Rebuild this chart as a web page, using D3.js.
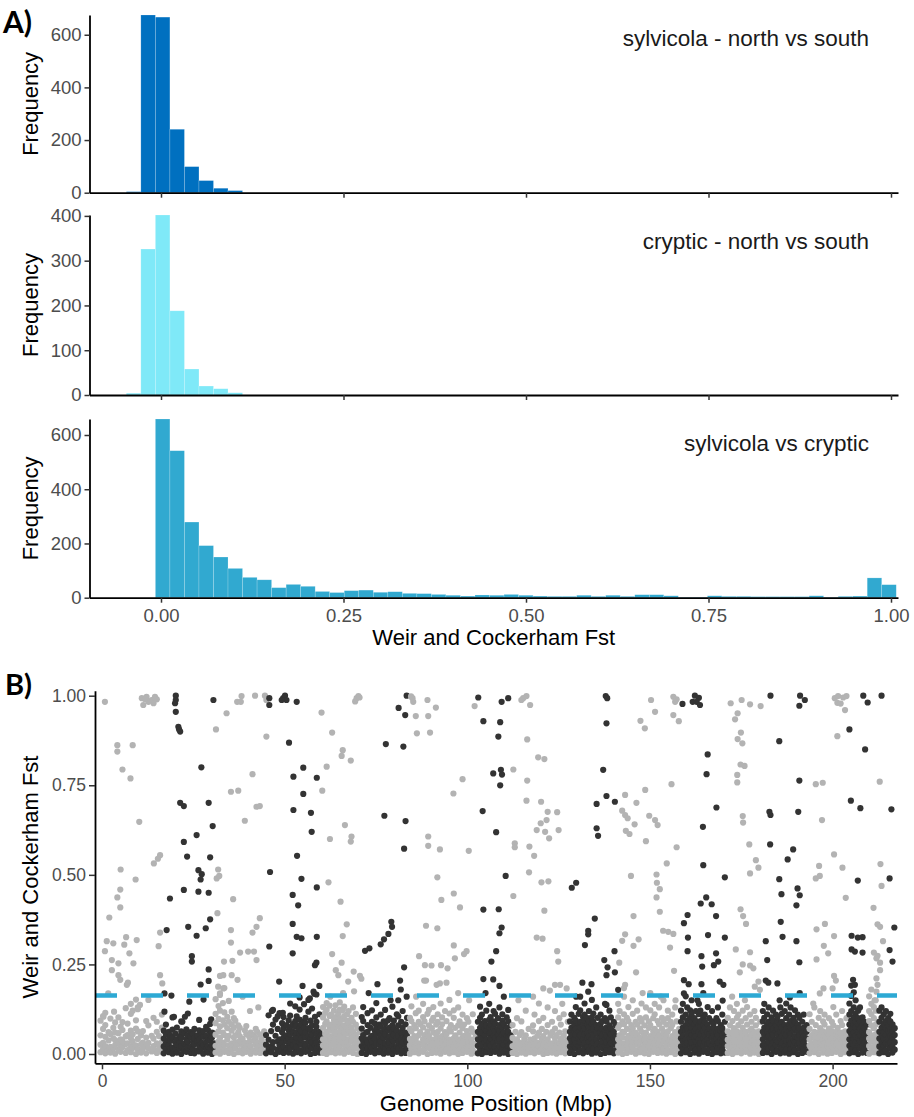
<!DOCTYPE html>
<html><head><meta charset="utf-8">
<script src="https://cdn.jsdelivr.net/npm/d3@7"></script>
<style>
body{margin:0;background:#fff}
svg{display:block}
text{font-family:"Liberation Sans",Arial,Helvetica,sans-serif}
</style>
</head><body>
<svg id="c" width="914" height="1117"></svg>
<script>
// ---------- Panel A: histogram data ----------
const histBinStart = -0.0475;
const histBinWidth = 0.0199;
const countsSylvicolaNS = [4,675,667,241,99,46,17,8];
const countsCrypticNS = [4,326,402,188,58,20,14,5];
const countsSylVsCry = [0,0,659,542,279,192,150,108,75,66,37,49,42,23,19,26,28,20,22,16,15,12,9,6,10,9,12,9,6,5,5,9,5,9,5,11,11,7,2,2,7,5,5,4,4,4,4,7,2,5,6,73,48];
const histLabels = ["sylvicola - north vs south","cryptic - north vs south","sylvicola vs cryptic"];
const histXTicks = [0,0.25,0.5,0.75,1];
const histXTickLabels = ["0.00","0.25","0.50","0.75","1.00"];
const histYTicks1 = [0,200,400,600];
const histYTicks2 = [0,100,200,300,400];
const histYTicks3 = [0,200,400,600];

// ---------- Panel B: Manhattan data ----------
const fstThreshold = 0.163;
const genomeTicks = [0,50,100,150,200];
const fstTicks = [0,0.25,0.5,0.75,1];
const fstTickLabels = ["0.00","0.25","0.50","0.75","1.00"];
// low band per chromosome: [position(Mbp), Fst values in hundredths...]
const lowBand = [
 [[-0.4,0.5,2.6,5.2,9.3],[0.3,1.4,3.1,7.0,10.6],[0.9,0.2,2.2,4.8,8.1,11.5],[1.8,1.0,3.8,6.1],[2.3,0.4,2.0,5.6,9.9],[3.1,1.6,4.4,7.3],[3.6,0.1,2.5,3.9,6.0,8.8],[4.5,1.2,3.3,5.8,10.2],[5.1,0.6,2.0,4.1,7.6],[5.6,1.9,3.6,6.7,8.9],[6.5,0.3,2.8,4.9,12.8],[7.0,1.1,3.0,5.3,8.5],[7.9,0.5,2.1,4.4,6.5,11.2,14.0],[8.4,1.7,3.5,5.5,12.1],[9.3,0.0,2.4,7.1,9.4,15.2],[9.8,1.3,4.2,6.3,13.0],[10.7,0.4,2.7,5.2],[11.2,1.5,3.2,6.4],[12.1,0.2,2.3,4.6,9.2],[12.7,1.6,3.1,8.0],[13.6,0.7,5.1],[14.1,1.0,2.2,4.3,10.1],[15.0,0.3,3.0,6.2,9.0],[15.6,1.4,2.4,5.0],[16.4,0.5,3.3,7.4,11.0]],
 [[16.9,0.2,2.1,4.3,6.5],[17.5,1.3,3.0,5.4,8.2],[18.3,0.5,2.4,4.0,6.2],[18.8,1.6,3.7,5.1],[19.3,0.1,1.8,4.6,6.8,10.2],[20.1,1.2,3.2,5.7],[20.5,0.4,2.6,4.1,7.4],[21.3,1.5,3.4,5.0],[21.7,0.0,2.2,4.5,6.3,9.1],[22.5,1.1,2.9,5.8],[23.1,0.6,2.5,4.2,6.9],[23.5,1.8,3.5,5.3,11.3],[24.3,0.3,2.0,4.7,6.1],[24.9,1.4,3.3,5.6],[25.3,0.2,2.7,4.4,7.0],[26.1,1.0,3.6,5.2],[26.6,0.7,2.3,4.0,6.6,9.5],[27.3,1.7,3.1,5.5],[27.7,0.1,2.5,4.8,6.4],[28.5,1.3,3.4,5.1,7.6],[29.0,0.4,2.1,4.3,6.7],[29.6,1.5,3.8,5.4,8.4],[30.1,0.0,2.6,4.6,6.0],[30.7,1.2,3.0,5.7]],
 [[31.1,0.4,2.3,5.4,8.6,11.2,15.3],[31.9,1.2,3.5,6.3,9.8,13.4],[32.3,0.1,2.0,4.5,7.7,12.1,16.5],[33.1,1.6,3.2,6.0,9.4,14.2],[33.5,0.6,2.6,5.3,8.2,11.6,18.4],[34.3,1.0,4.1,7.2,10.4],[34.7,0.3,2.4,5.1,9.0,14.8],[35.5,1.4,3.0,6.5,8.3,11.8],[36.1,0.0,2.1,4.6,7.4,10.0],[36.5,1.7,3.3,5.2,9.3],[37.3,0.5,2.8,6.1,8.0],[37.7,1.1,3.6,5.0,7.3],[38.5,0.2,2.5,4.2],[39.1,1.3,3.1,6.6],[39.5,0.6,2.0,5.5,7.8],[40.3,1.5,3.4,4.8],[40.7,0.1,2.2,6.0],[41.5,1.0,3.7,5.3],[42.1,0.4,2.6,4.5,7.0],[42.5,1.6,3.2,6.2],[43.3,0.3,2.1,5.4],[43.7,1.2,3.5,4.1],[44.4,0.5,2.4,6.3]],
 [[44.9,0.2,2.6,5.3],[45.6,1.4,4.0,10.8],[46.3,0.5,2.1,6.4],[46.8,1.7,3.3,8.2,12.3],[47.5,0.0,5.1,9.6],[48.1,1.2,3.5,7.0],[48.6,0.6,2.4,4.1,11.4],[49.3,1.5,3.2,6.1,8.6],[49.7,0.3,2.0,4.6,7.2,10.3],[50.5,1.1,3.6,5.2,8.1],[51.1,0.4,2.2,4.3,6.6,9.4],[51.5,1.6,3.1,5.5,7.5,10.7,14.1],[52.3,0.1,2.5,4.0,6.2,8.4],[52.9,1.3,3.4,5.1,7.7,9.2,13.3],[53.3,0.5,2.0,4.5,6.1,8.0,10.5],[54.1,1.0,3.2,5.6,7.1,9.6,12.4,15.8],[54.5,0.2,2.6,4.2,6.4,8.3],[55.3,1.4,3.0,5.3,7.4,9.1,13.9],[55.7,0.6,2.3,4.7,6.0,8.7,10.1],[56.5,1.2,3.5,5.0,7.2,11.8,15.1],[57.1,0.0,2.1,4.4,6.5,9.3],[57.5,1.7,3.3,5.4,8.0,12.7],[58.3,0.3,2.4,4.1,6.3,10.4],[58.7,1.5,3.1,5.5,7.6,9.0,16.6],[59.5,0.4,2.0,4.6,6.2,11.1],[60.0,1.1,3.6,5.2]],
 [[60.5,0.3,2.4,4.1,7.3,10.2,13.1],[61.1,1.2,3.0,5.6,8.4,11.5],[61.5,0.0,2.1,4.5,6.2,9.1,12.3,14.2],[62.3,1.5,3.3,5.0,7.4,10.6,13.5],[62.7,0.5,2.6,4.2,6.6,8.2,11.0],[63.5,1.1,3.5,5.3,7.0,9.5,12.1],[63.9,0.2,2.0,4.6,6.1,8.4,10.3,13.6],[64.7,1.6,3.2,5.5,7.7,9.0,11.4],[65.1,0.4,2.3,4.0,6.3,8.6,10.0,12.4,14.4],[65.9,1.0,3.1,5.2,7.5,9.7,12.2],[66.3,0.1,2.5,4.4,6.0,8.0,10.6,13.2],[67.1,1.4,3.4,5.7,7.2,9.3,11.1],[67.5,0.6,2.2,4.1,6.5,8.5,12.0],[68.3,1.2,3.6,5.1,7.4,10.1],[68.7,0.3,2.0,4.7,6.2,9.0,13.0],[69.5,1.7,3.2,5.4,8.2,11.2],[69.9,0.0,2.4,4.3,7.1],[70.6,1.3,3.0,6.1]],
 [[71.1,0.3,2.2,4.4,7.1,10.3],[71.5,1.5,3.6,5.3,9.2,13.1],[72.3,0.0,2.5,4.1,6.0],[72.7,1.2,3.2,6.2,8.1,11.4],[73.5,0.6,2.0,4.6,7.3],[73.9,1.7,3.4,5.1,9.0,12.2],[74.7,0.2,2.3,4.2,6.4,8.5],[75.1,1.0,3.1,5.6,7.2,10.2,14.2],[75.9,0.5,2.6,4.0,6.1,8.2],[76.3,1.4,3.5,5.2,7.6,11.0],[77.1,0.1,2.1,4.5,6.3,9.1],[77.5,1.6,3.0,5.5,7.0,8.6,12.3],[78.3,0.4,2.4,4.3,6.6,9.4],[78.7,1.1,3.3,5.0,7.4,10.0],[79.5,0.0,2.2,4.1,6.2,8.0,13.2],[79.9,1.3,3.6,5.4,7.1,9.3],[80.7,0.6,2.0,4.6,6.5,11.1],[81.1,1.5,3.2,5.2,8.0,10.5,15.0],[81.9,0.2,2.5,4.0,6.1,9.0],[82.3,1.0,3.1,5.6,7.3,12.0],[83.1,0.3,2.3,4.4,6.0,8.3],[83.5,1.4,3.4,5.1,10.1]],
 [[84.3,0.1,2.4,4.2,7.0,10.1],[84.7,1.3,3.1,6.3,9.2,13.3],[85.5,0.5,2.0,5.0,8.1],[85.9,1.6,3.5,4.4,7.2,11.4],[86.7,0.2,2.3,5.2,9.0,12.1],[87.1,1.1,3.0,6.1,8.3],[87.9,0.6,2.6,4.1,7.4,10.3,14.0],[88.3,1.4,3.3,5.3,9.1],[89.1,0.0,2.1,4.6,6.3,11.2],[89.5,1.7,3.6,5.1,8.0,12.3],[90.3,0.3,2.5,4.0,7.2,9.3],[90.7,1.2,3.2,6.0,10.1,13.1],[91.5,0.4,2.2,4.3,5.4,8.2],[91.9,1.5,3.4,6.2,9.0,11.1],[92.7,0.1,2.0,4.5,7.1,14.1],[93.1,1.0,3.1,5.0,8.3,10.2],[93.9,0.6,2.4,4.2,6.1,12.0],[94.3,1.3,3.5,5.5,9.2],[95.1,0.2,2.6,4.0,7.0,11.3,15.1],[95.5,1.6,3.0,6.3,8.1],[96.3,0.5,2.3,4.4,10.1,12.2],[96.7,1.1,3.3,5.2,7.3],[97.5,0.0,2.1,4.1,8.0,13.0],[97.9,1.4,3.6,6.0,9.1],[98.7,0.3,2.5,4.6,7.2,11.0],[99.1,1.2,3.2,5.1,8.2],[99.9,0.6,2.0,4.3,6.4,10.0],[100.3,1.5,3.4,5.3,9.0],[101.1,0.1,2.2,4.0,7.1],[101.5,1.0,3.0,6.2,11.1],[102.3,0.4,2.6,5.0]],
 [[102.9,0.2,2.3,4.1,6.2,9.0],[103.5,1.4,3.0,5.5,7.3,10.1,13.2],[104.0,0.0,2.5,4.4,6.0,8.4,11.0],[104.8,1.1,3.4,5.2,7.1,9.2],[105.2,0.5,2.1,4.0,6.5,8.0,12.1],[106.0,1.6,3.2,5.6,7.4,9.5,14.0],[106.4,0.3,2.4,4.3,6.1,8.2,10.3],[107.2,1.0,3.1,5.0,7.2,9.1,12.0],[107.6,0.6,2.0,4.6,6.3,8.5,11.2],[108.4,1.3,3.5,5.3,7.0,10.0],[108.8,0.1,2.2,4.2,6.4,8.1,13.0],[109.6,1.5,3.0,5.4,7.5,9.3,11.1],[110.0,0.4,2.6,4.1,6.0,8.3],[110.8,1.2,3.3,5.1,7.3,10.2],[111.2,0.0,2.3,4.5,6.2,9.1],[111.9,1.6,3.1,5.2,8.0]],
 [[112.4,0.3,2.2,4.5,8.1],[113.2,1.1,3.4,6.2],[113.6,0.0,2.0,4.1,10.0],[114.4,1.5,3.1,5.3],[114.8,0.4,2.6,6.1,9.1],[115.6,1.2,3.3,4.2],[116.0,0.1,2.1,5.2,12.1],[116.8,1.6,3.0,7.0],[117.2,0.5,2.4,4.0],[118.0,1.0,3.5,6.3,8.0],[118.4,0.2,2.0,4.4,11.0],[119.2,1.3,3.2,5.1],[119.6,0.6,2.3,6.0,9.2,14.1],[120.4,1.4,3.1,4.3,7.0],[120.8,0.0,2.5,5.0,10.1],[121.6,1.1,3.4,6.2],[122.0,0.3,2.1,4.1,8.1,13.0],[122.8,1.5,3.0,5.2],[123.2,0.4,2.2,6.1,9.0],[124.0,1.2,3.3,4.4,7.1,12.0],[124.4,0.1,2.4,5.3],[125.2,1.6,3.1,6.0,10.0],[125.6,0.5,2.0,4.2,8.2],[126.4,1.0,3.5,5.1,11.1],[126.8,0.2,2.3,6.3],[127.5,1.4,3.2,4.0,9.0]],
 [[128.1,0.3,2.1,4.4,6.2,9.1],[128.5,1.2,3.5,5.1,7.3,11.0],[129.3,0.0,2.4,4.0,6.5,8.2,10.1],[129.7,1.6,3.0,5.4,7.0,9.3,13.1],[130.5,0.5,2.2,4.3,6.1,8.4,11.2],[130.9,1.1,3.3,5.2,7.4,9.0,12.2,16.0],[131.7,0.2,2.6,4.1,6.3,8.0,10.3],[132.1,1.4,3.1,5.5,7.2,9.4,11.0,14.1],[132.9,0.6,2.0,4.5,6.0,8.2,10.0],[133.3,1.0,3.4,5.0,7.5,9.2,12.0],[134.1,0.1,2.3,4.2,6.4,8.3,10.2,15.1],[134.5,1.5,3.2,5.3,7.1,9.0,11.3],[135.3,0.4,2.5,4.0,6.2,8.1,13.0],[135.7,1.3,3.0,5.6,7.3,10.1],[136.5,0.0,2.2,4.6,6.0,8.4,11.0],[136.9,1.7,3.5,5.1,7.0,9.2],[137.7,0.3,2.1,4.3,6.5,10.0,14.0],[138.1,1.1,3.3,5.2,7.4,9.1],[138.9,0.5,2.4,4.1,6.1,8.0,12.1],[139.3,1.4,3.0,5.5,7.2,10.2],[140.1,0.2,2.6,4.4,6.3,9.0],[140.6,1.0,3.1,5.0,8.1]],
 [[141.3,0.4,2.2,4.1,7.3,10.2,14.0],[141.7,1.1,3.5,5.2,8.1,12.0],[142.5,0.0,2.5,4.6,6.2,9.1],[142.9,1.5,3.0,6.1,8.3,11.1,16.0],[143.7,0.3,2.1,4.3,7.0,10.1],[144.1,1.2,3.4,5.1,9.2,13.1],[144.9,0.6,2.3,4.0,6.4,8.1],[145.3,1.6,3.1,5.5,7.2,11.2,15.0],[146.1,0.1,2.6,4.2,6.0,9.0],[146.5,1.0,3.3,5.3,8.2,12.1],[147.3,0.5,2.0,4.5,7.1,10.0],[147.7,1.3,3.6,6.2,9.1,14.1],[148.5,0.2,2.4,4.1,5.4,8.0],[148.9,1.4,3.0,6.0,10.2,13.0],[149.7,0.0,2.2,4.4,7.3,9.1],[150.1,1.2,3.4,5.0,8.1,12.2,17.0],[150.9,0.6,2.1,4.2,6.3,10.0],[151.3,1.5,3.2,5.4,7.0,11.1,14.0],[152.1,0.3,2.5,4.0,6.2,9.2],[152.5,1.0,3.1,5.2,8.3,13.0],[153.3,0.4,2.0,4.6,7.1,10.1],[153.7,1.6,3.5,6.1,9.0,15.0],[154.5,0.1,2.3,4.3,5.3,8.2],[154.9,1.1,3.0,6.3,10.0,12.1],[155.7,0.5,2.6,4.1,7.2,9.0],[156.1,1.3,3.3,5.0,8.1,11.0],[156.9,0.0,2.2,4.4,6.1,13.0],[157.3,1.4,3.1,5.3,9.1],[158.0,0.6,2.4,4.0,7.0]],
 [[158.5,0.2,2.1,4.4,6.2,9.0,12.1],[159.0,1.3,3.5,5.1,7.4,10.2,14.0],[159.8,0.5,2.3,4.0,6.5,8.1,11.0,16.1],[160.2,1.1,3.0,5.5,7.1,9.3,13.0],[161.0,0.0,2.5,4.2,6.0,8.4,10.1,12.2],[161.4,1.6,3.2,5.3,7.3,9.0,11.2,15.0],[162.2,0.4,2.0,4.6,6.3,8.2,10.0],[162.6,1.2,3.4,5.0,7.0,9.1,12.0],[163.4,0.1,2.4,4.1,6.1,8.0,11.1,14.0],[163.8,1.4,3.1,5.4,7.5,9.2,12.1],[164.6,0.6,2.2,4.3,6.4,8.1,10.2,17.0],[165.0,1.0,3.3,5.2,7.2,9.0,11.0],[165.8,0.3,2.6,4.0,6.0,8.3,13.1],[166.2,1.5,3.0,5.5,7.1,10.0],[167.0,0.0,2.1,4.5,6.2,9.1,12.0],[167.4,1.2,3.5,5.1,7.3,8.4],[168.2,0.5,2.3,4.2,6.1,10.0],[168.6,1.6,3.2,5.3,7.0,9.2,13.0],[169.4,0.2,2.0,4.0,6.4,8.1],[169.8,1.1,3.4,5.2,7.2,11.0],[170.5,0.4,2.5,4.4,6.0,9.0]],
 [[171.3,0.3,2.2,4.0,6.3,10.1],[171.9,1.4,3.1,5.5,8.0,13.0],[172.6,0.0,2.5,4.3,6.1,9.2],[173.0,1.1,3.4,5.1,7.2,12.0],[173.8,0.5,2.0,4.5,6.4,10.1,14.0],[174.2,1.5,3.3,5.2,8.1,11.0],[175.0,0.2,2.4,4.1,6.0,9.1],[175.4,1.2,3.0,5.4,7.3,12.1],[176.2,0.6,2.1,4.2,6.2,10.0],[176.6,1.0,3.5,5.0,8.2,13.1],[177.4,0.1,2.3,4.4,6.5,11.0],[177.8,1.6,3.2,5.3,7.1,9.0],[178.6,0.4,2.6,4.0,6.1,12.0],[179.0,1.3,3.1,5.5,8.0,10.1],[179.8,0.0,2.2,4.6,6.3],[180.2,1.2,3.4,5.1,9.0]],
 [[180.9,0.3,2.4,4.1,6.2,9.1,12.0],[181.3,1.1,3.0,5.4,7.3,10.1,14.0],[182.1,0.5,2.2,4.5,6.0,8.2,11.1],[182.5,1.5,3.5,5.0,7.1,9.0,13.0],[183.3,0.0,2.1,4.2,6.4,8.1,10.2],[183.7,1.3,3.2,5.3,7.0,9.3,12.1],[184.5,0.6,2.5,4.0,6.3,8.0,11.0],[184.9,1.0,3.4,5.5,7.2,9.1,10.3],[185.7,0.2,2.0,4.4,6.1,8.3,13.0],[186.1,1.6,3.1,5.1,7.4,9.0,11.2],[186.9,0.4,2.3,4.3,6.0,8.1,12.0],[187.3,1.2,3.6,5.2,7.0,10.0,14.1],[188.1,0.1,2.4,4.0,6.2,8.4,11.0],[188.5,1.4,3.0,5.6,7.3,9.2,13.0],[189.3,0.5,2.2,4.1,6.5,8.0,10.1],[189.7,1.1,3.3,5.0,7.1,9.0,12.2],[190.5,0.0,2.6,4.5,6.3,8.2,11.0],[190.9,1.5,3.1,5.3,7.2,10.1],[191.7,0.3,2.0,4.2,6.0,9.0],[192.1,1.2,3.4,5.1,7.4,11.0],[192.9,0.6,2.3,4.4,6.2,8.1]],
 [[193.7,0.2,2.4,4.1,7.0,11.1],[194.3,1.3,3.0,5.3,9.0],[195.0,0.5,2.1,4.5,6.2,13.0],[195.4,1.1,3.5,5.0,8.1],[196.2,0.0,2.3,4.2,6.0,10.1],[196.6,1.5,3.2,5.4,7.2,12.0],[197.4,0.4,2.5,4.0,6.3,9.1],[197.8,1.2,3.0,5.1,8.2,11.0],[198.6,0.1,2.2,4.4,6.1],[199.0,1.6,3.4,5.2,7.1,10.0],[199.8,0.3,2.0,4.1,6.4,9.0],[200.2,1.0,3.1,5.5,8.0,13.1],[201.0,0.6,2.4,4.3,6.2,11.0],[201.4,1.4,3.3,5.0,7.3],[202.2,0.0,2.1,4.5,6.0,9.2],[202.6,1.1,3.5,5.3,8.1,12.0],[203.4,0.5,2.3,4.0,6.3],[203.8,1.3,3.0,5.1,10.0]],
 [[204.6,0.2,2.3,4.1,6.4,8.2,11.0,14.1],[205.1,1.4,3.0,5.5,7.1,9.3,12.0,16.2,19.1],[205.8,0.5,2.5,4.2,6.0,8.1,10.3,13.0,17.2],[206.3,1.1,3.3,5.1,7.4,9.0,11.2,15.0],[207.0,0.0,2.1,4.4,6.2,8.3,10.0,12.1],[207.5,1.6,3.5,5.2,7.0,9.1,13.0],[208.2,0.4,2.2,4.0,6.3,8.0,10.2],[208.7,1.2,3.1,5.3,7.2,9.0],[209.4,0.3,2.4,4.5,6.1,8.2]],
 [[210.0,0.1,2.2,4.3,6.1,9.2,12.0,16.1],[210.6,1.4,3.5,5.2,8.0,11.1,14.0,18.0],[211.3,0.5,2.0,4.1,7.2,10.0,13.1],[211.8,1.1,3.3,5.5,8.2,12.1,15.0],[212.4,0.3,2.5,4.4,6.0,9.0]],
 [[212.8,0.2,2.1,4.3,6.2,9.0,12.1],[213.4,1.3,3.4,5.0,7.3,10.1,13.0],[214.0,0.5,2.3,4.1,6.0,8.4,11.1],[214.6,1.0,3.0,5.4,7.1,9.2,12.0],[215.2,0.0,2.5,4.2,6.3,8.1,10.0],[215.8,1.5,3.2,5.1,7.0,9.1,11.2],[216.4,0.4,2.0,4.5,6.2,8.3],[217.0,1.2,3.3,5.3,7.2]]
];
// scattered higher-Fst SNPs per chromosome: [position(Mbp), Fst]
const upperPoints = [
 [[0.8,.983],[10.9,.993],[12.2,.997],[13.6,.988],[14.5,.997],[11.3,.974],[14.1,.979],[12.7,.983],[11.8,.99],[15.0,.99],[4.2,.862],[4.2,.844],[5.6,.794],[7.8,.769],[8.4,.862],[10.2,.648],[5.1,.515],[15.9,.555],[14.2,.532],[15.3,.545],[9.2,.487],[5.0,.459],[4.2,.437],[5.0,.409],[2.0,.381],[15.9,.339],[15.5,.301],[1.3,.315],[3.1,.309],[6.6,.326],[9.5,.318],[6.1,.305],[0.8,.287],[2.7,.262],[7.5,.281],[8.6,.253],[4.5,.253],[2.7,.234],[4.5,.22],[5.0,.207],[6.8,.193],[7.1,.199],[15.9,.22],[16.5,.197],[1.7,.169],[0.4,.104],[10.4,.137],[12.7,.151],[9.8,.125],[3.3,.118]],
 [[20.2,1.0],[20.2,.988],[20.0,.979],[20.2,.955],[20.9,.913],[21.4,.9],[21.1,.906],[30.5,.988],[27.2,.8],[21.4,.701],[22.4,.692],[29.2,.701],[30.3,.636],[25.9,.611],[22.4,.592],[23.3,.551],[29.6,.549],[26.4,.513],[27.3,.502],[27.0,.487],[18.6,.434],[22.4,.458],[26.4,.453],[29.2,.45],[29.6,.376],[17.7,.346],[23.6,.355],[28.4,.351],[25.9,.33],[24.6,.273],[24.6,.258],[29.2,.236],[27.0,.194],[29.2,.204],[19.0,.163],[17.1,.169],[23.9,.146],[27.8,.152],[17.1,.118],[19.7,.104],[22.7,.104],[29.9,.097],[22.0,.09]],
 [[31.2,.906],[34.1,.951],[37.0,.983],[38.2,.999],[38.0,.983],[41.9,1.0],[44.6,1.0],[45.0,.988],[45.0,.886],[41.2,.781],[35.3,.732],[37.3,.735],[39.1,.651],[42.3,.69],[43.2,.692],[31.8,.515],[31.4,.49],[32.1,.497],[35.9,.432],[31.6,.393],[43.2,.379],[42.3,.355],[41.2,.339],[35.3,.346],[35.3,.311],[37.8,.283],[40.0,.286],[41.6,.286],[33.4,.258],[35.7,.26],[42.3,.262],[32.3,.218],[33.2,.22],[35.5,.22],[37.1,.207],[31.8,.188],[32.3,.169],[33.2,.183],[42.8,.13],[38.5,.16],[40.5,.12]],
 [[45.8,.993],[45.8,.974],[49.6,.993],[50.1,1.0],[50.5,.988],[53.3,.983],[49.2,.988],[51.2,.869],[55.1,.799],[52.4,.774],[58.8,.771],[55.1,.726],[52.4,.681],[57.2,.673],[57.4,.62],[46.0,.508],[53.4,.553],[54.6,.489],[58.8,.465],[52.2,.444],[53.7,.415],[52.2,.363],[53.3,.327],[54.6,.323],[58.8,.327],[45.8,.3],[52.2,.281],[58.3,.248],[58.7,.255],[48.5,.202],[54.9,.19],[56.9,.155],[58.1,.168],[59.5,.19],[57.9,.174],[46.5,.12],[48.1,.105],[49.5,.115]],
 [[60.1,.953],[69.7,.993],[70.2,.999],[69.3,.984],[70.5,.995],[63.0,.897],[65.9,.848],[65.6,.832],[68.1,.819],[61.5,.802],[60.3,.735],[66.5,.639],[68.3,.607],[68.1,.593],[62.4,.6],[62.0,.479],[65.3,.425],[67.0,.362],[65.9,.329],[63.0,.279],[65.6,.255],[64.0,.234],[64.7,.22],[68.9,.23],[70.6,.218],[71.0,.21],[67.4,.202],[66.0,.17],[62.5,.16],[69.0,.175]],
 [[83.4,1.0],[81.2,.966],[83.0,.946],[77.7,.865],[82.5,.858],[77.3,.665],[83.1,.65],[82.7,.573],[79.2,.369],[79.4,.355],[78.4,.335],[77.2,.32],[76.3,.306],[73.2,.295],[72.0,.288],[82.7,.242],[81.6,.205],[75.4,.195],[81.8,.18],[83.4,.16],[73.0,.17],[79.0,.15]],
 [[85.0,.993],[85.2,.983],[84.6,.998],[89.1,.988],[91.4,.967],[89.3,.943],[85.9,.943],[86.2,.895],[89.8,.897],[102.0,.971],[98.7,.767],[96.2,.727],[89.3,.607],[89.3,.581],[92.5,.571],[100.4,.567],[91.8,.493],[96.3,.448],[92.9,.43],[98.0,.409],[88.7,.358],[91.8,.351],[96.3,.303],[99.8,.287],[99.1,.279],[96.6,.267],[86.8,.273],[88.4,.248],[90.2,.247],[92.8,.248],[94.6,.239],[88.2,.205],[88.7,.205],[92.5,.197],[94.3,.199],[91.6,.193],[86.0,.16],[97.5,.17],[100.5,.15]],
 [[103.0,.995],[109.4,.983],[111.2,.993],[104.4,.929],[108.5,.886],[109.0,.926],[107.1,.783],[109.2,.793],[109.5,.78],[109.0,.75],[104.2,.678],[107.9,.619],[110.5,.497],[104.4,.403],[108.6,.404],[109.4,.353],[108.8,.337],[107.9,.287],[106.6,.258],[104.4,.209],[107.1,.208],[108.8,.19],[111.2,.123],[105.0,.17],[110.0,.16]],
 [[115.3,.993],[116.2,.999],[117.2,.974],[114.8,.988],[116.4,.878],[119.4,.828],[121.1,.823],[112.6,.794],[116.4,.763],[116.2,.707],[120.2,.704],[122.0,.676],[124.6,.675],[120.1,.644],[121.7,.653],[119.0,.625],[121.3,.62],[122.4,.602],[125.0,.625],[113.0,.588],[113.0,.577],[117.0,.579],[118.3,.553],[116.9,.507],[120.3,.479],[122.2,.482],[112.6,.441],[121.1,.4],[119.0,.325],[120.6,.322],[124.6,.287],[124.9,.258],[120.8,.183],[122.6,.177],[124.0,.193],[125.4,.193],[127.2,.183],[118.0,.16],[114.0,.15],[126.0,.14]],
 [[137.9,.999],[138.3,.993],[138.1,.923],[137.2,.793],[135.4,.698],[138.1,.72],[140.4,.704],[135.4,.63],[135.8,.609],[128.6,.464],[129.8,.478],[134.9,.378],[133.1,.344],[133.1,.334],[132.2,.304],[140.3,.287],[137.5,.262],[138.4,.242],[140.4,.228],[138.1,.22],[131.5,.199],[134.0,.195],[133.1,.174],[141.3,.179],[129.8,.16],[138.1,.137]],
 [[150.3,.988],[151.4,.955],[147.4,.93],[148.6,.909],[156.4,.997],[157.3,.99],[156.9,.983],[156.4,.946],[157.9,.929],[155.9,.753],[148.7,.737],[146.3,.701],[143.2,.723],[142.4,.679],[143.2,.667],[143.9,.658],[145.8,.641],[149.8,.665],[151.4,.653],[152.1,.639],[143.4,.623],[144.4,.614],[148.9,.594],[157.3,.577],[154.6,.532],[144.8,.497],[151.8,.501],[151.9,.478],[152.7,.46],[151.8,.437],[152.7,.397],[145.5,.385],[153.6,.344],[155.0,.341],[156.4,.335],[155.5,.297],[143.2,.334],[142.4,.316],[146.9,.32],[145.5,.302],[141.6,.255],[146.2,.228],[156.6,.232],[143.2,.193],[142.9,.184],[148.0,.17],[153.0,.16],[157.0,.15]],
 [[162.3,1.0],[163.4,.994],[162.8,.983],[161.7,.983],[158.9,.977],[163.7,.974],[165.8,.836],[165.5,.781],[164.5,.634],[164.6,.527],[163.9,.42],[165.4,.437],[165.9,.332],[160.3,.388],[159.3,.365],[160.4,.325],[160.3,.287],[164.1,.273],[164.3,.244],[159.3,.206],[160.6,.195],[164.1,.195],[159.3,.169],[168.2,.688],[170.5,.493],[166.9,.418],[168.1,.385],[170.5,.325],[168.1,.281],[168.7,.258],[167.5,.248],[169.1,.202],[170.1,.193],[169.9,.149],[163.0,.15]],
 [[172.1,.979],[175.1,.988],[177.4,.976],[180.3,.971],[174.0,.951],[173.3,.934],[174.9,.897],[174.0,.879],[175.3,.867],[174.8,.808],[175.9,.804],[173.9,.779],[173.9,.758],[175.4,.664],[175.5,.646],[177.2,.585],[179.0,.541],[179.7,.52],[177.4,.504],[174.8,.404],[175.5,.385],[176.3,.363],[173.5,.292],[177.4,.284],[175.4,.25],[174.6,.228],[177.4,.247],[178.3,.239],[179.7,.202],[180.1,.179],[178.7,.188],[172.5,.16],[176.0,.15]],
 [[183.0,1.0],[191.1,1.0],[192.4,.988],[190.9,.972],[185.4,.873],[190.9,.763],[182.7,.676],[183.0,.667],[190.6,.676],[182.9,.585],[189.2,.571],[187.7,.543],[185.4,.488],[190.4,.462],[191.0,.443],[186.0,.446],[190.1,.415],[185.8,.369],[186.3,.327],[190.1,.315],[181.7,.315],[182.1,.262],[190.9,.256],[181.7,.205],[182.4,.199],[184.9,.197],[188.3,.158],[191.0,.17],[185.5,.15]],
 [[200.6,.993],[201.5,.999],[202.9,.995],[203.8,.999],[201.3,.98],[203.4,.96],[202.2,.978],[201.3,.887],[195.4,.753],[197.3,.757],[197.1,.653],[200.4,.557],[202.7,.52],[196.3,.525],[195.4,.49],[196.5,.497],[203.6,.436],[195.6,.348],[197.9,.363],[200.4,.329],[197.6,.302],[198.8,.281],[195.6,.264],[200.4,.218],[200.9,.205],[200.0,.183],[197.5,.183],[196.5,.169],[194.7,.141]],
 [[204.6,.906],[208.4,1.0],[209.6,.981],[208.9,.85],[205.0,.707],[207.6,.686],[206.9,.484],[205.2,.33],[206.9,.325],[208.2,.326],[205.2,.292],[206.1,.286],[208.2,.283],[205.6,.207],[206.1,.193]],
 [[212.9,.76],[213.1,.53],[213.4,.469],[211.2,.408],[212.3,.362],[213.0,.355],[213.8,.315],[211.3,.283],[212.0,.267],[213.0,.255],[212.3,.274],[213.0,.234],[212.0,.211],[212.3,.193],[212.0,.174],[211.5,.15]],
 [[213.4,1.0],[216.1,.683],[215.6,.49],[216.9,.353],[215.6,.29],[216.4,.258]]
];
const chromColors = ["#B3B3B3","#333333"];

// ---------- drawing ----------
const svg = d3.select("#c");
const tickGray = "#4D4D4D";

// Panel A
const hx = d3.scaleLinear().domain([-0.09795, 1.00959]).range([89.5, 898]);
const histPanels = [
  {counts: countsSylvicolaNS, fill: "#0070C0", top: 15, bottom: 192.7, ticks: histYTicks1, label: histLabels[0], labelY: 46, xLabels: false},
  {counts: countsCrypticNS, fill: "#7FE9F8", top: 215, bottom: 395, ticks: histYTicks2, label: histLabels[1], labelY: 249, xLabels: false},
  {counts: countsSylVsCry, fill: "#31A9D0", top: 419, bottom: 597.7, ticks: histYTicks3, label: histLabels[2], labelY: 451, xLabels: true}
];

function styleAxis(g, fontSize) {
  g.select(".domain").attr("stroke", "#000").attr("stroke-width", 1.8);
  g.selectAll(".tick line").attr("stroke", "#333").attr("stroke-width", 1.5);
  g.selectAll(".tick text").attr("fill", tickGray).style("font-size", fontSize + "px")
    .style("font-family", '"Liberation Sans",Arial,sans-serif');
}

histPanels.forEach(p => {
  const hy = d3.scaleLinear().domain([0, d3.max(p.counts)]).range([p.bottom, p.top]);
  const bins = p.counts.map((c, k) => ({x0: histBinStart + k * histBinWidth, x1: histBinStart + (k + 1) * histBinWidth, c}))
    .filter(b => b.c > 0);
  svg.append("g").selectAll("rect").data(bins).join("rect")
    .attr("x", b => hx(b.x0)).attr("width", b => hx(b.x1) - hx(b.x0))
    .attr("y", b => hy(b.c)).attr("height", b => hy(0) - hy(b.c))
    .attr("fill", p.fill).attr("stroke", "rgba(255,255,255,0.3)").attr("stroke-width", 0.6);

  const gy = svg.append("g").attr("transform", `translate(${hx.range()[0]},0)`)
    .call(d3.axisLeft(hy).tickValues(p.ticks).tickFormat(d3.format("d")).tickSize(5).tickSizeOuter(0).tickPadding(3));
  styleAxis(gy, 18.5);
  const xa = d3.axisBottom(hx).tickValues(histXTicks).tickSize(5).tickSizeOuter(0).tickPadding(6)
    .tickFormat((d, i) => p.xLabels ? histXTickLabels[i] : "");
  const gx = svg.append("g").attr("transform", `translate(0,${p.bottom})`).call(xa);
  styleAxis(gx, 18.5);

  svg.append("text").attr("x", 869).attr("y", p.labelY).attr("text-anchor", "end")
    .style("font-size", "22.5px").attr("fill", "#1a1a1a").text(p.label);
  svg.append("text").attr("transform", `translate(38,${(p.top + p.bottom) / 2}) rotate(-90)`)
    .attr("text-anchor", "middle").style("font-size", "22px").attr("fill", "#000").text("Frequency");
});
svg.append("text").attr("x", (hx.range()[0] + hx.range()[1]) / 2).attr("y", 645).attr("text-anchor", "middle")
  .style("font-size", "22px").attr("fill", "#000").text("Weir and Cockerham Fst");

// Panel B
const sx = d3.scaleLinear().domain([-1.916, 217.63]).range([95, 897]);
const sy = d3.scaleLinear().domain([-0.02596, 1.01396]).range([1063.3, 690.7]);

const pts = [];
lowBand.forEach((cols, ci) => {
  cols.forEach(col => {
    for (let j = 1; j < col.length; j++) pts.push({pos: col[0], fst: col[j] / 100, ci});
  });
  upperPoints[ci].forEach(d => pts.push({pos: d[0], fst: d[1], ci}));
});
svg.append("g").selectAll("circle").data(pts).join("circle")
  .attr("cx", d => sx(d.pos)).attr("cy", d => sy(d.fst)).attr("r", 3.1)
  .attr("fill", d => chromColors[d.ci % 2]);

svg.append("path")
  .attr("d", d3.line().x(d => sx(d[0])).y(d => sy(d[1]))([[sx.domain()[0], fstThreshold], [sx.domain()[1], fstThreshold]]))
  .attr("stroke", "#2DA9D4").attr("stroke-width", 4.5).attr("stroke-dasharray", "22 24").attr("fill", "none");

const sgy = svg.append("g").attr("transform", `translate(${sx.range()[0]},0)`)
  .call(d3.axisLeft(sy).tickValues(fstTicks).tickFormat((d, i) => fstTickLabels[i]).tickSize(6).tickSizeOuter(0).tickPadding(3));
styleAxis(sgy, 17.5);
const sgx = svg.append("g").attr("transform", `translate(0,${sy.range()[0]})`)
  .call(d3.axisBottom(sx).tickValues(genomeTicks).tickFormat(d3.format("d")).tickSize(6).tickSizeOuter(0).tickPadding(5));
styleAxis(sgx, 17.5);

svg.append("text").attr("x", (sx.range()[0] + sx.range()[1]) / 2).attr("y", 1111).attr("text-anchor", "middle")
  .style("font-size", "22px").attr("fill", "#000").text("Genome Position (Mbp)");
svg.append("text").attr("transform", `translate(38,${(sy.range()[0] + sy.range()[1]) / 2}) rotate(-90)`)
  .attr("text-anchor", "middle").style("font-size", "22px").attr("fill", "#000").text("Weir and Cockerham Fst");

// Panel tags
svg.append("text").attr("x", 3).attr("y", 33).style("font-size", "30px").style("font-weight", "bold")
  .style("font-family", "Lato, 'Open Sans', sans-serif").attr("fill", "#000").text("A)");
svg.append("text").attr("x", 5).attr("y", 695).style("font-size", "29px").style("font-weight", "bold")
  .style("font-family", "Lato, 'Open Sans', sans-serif").attr("fill", "#000").text("B)");
</script>
</body></html>
